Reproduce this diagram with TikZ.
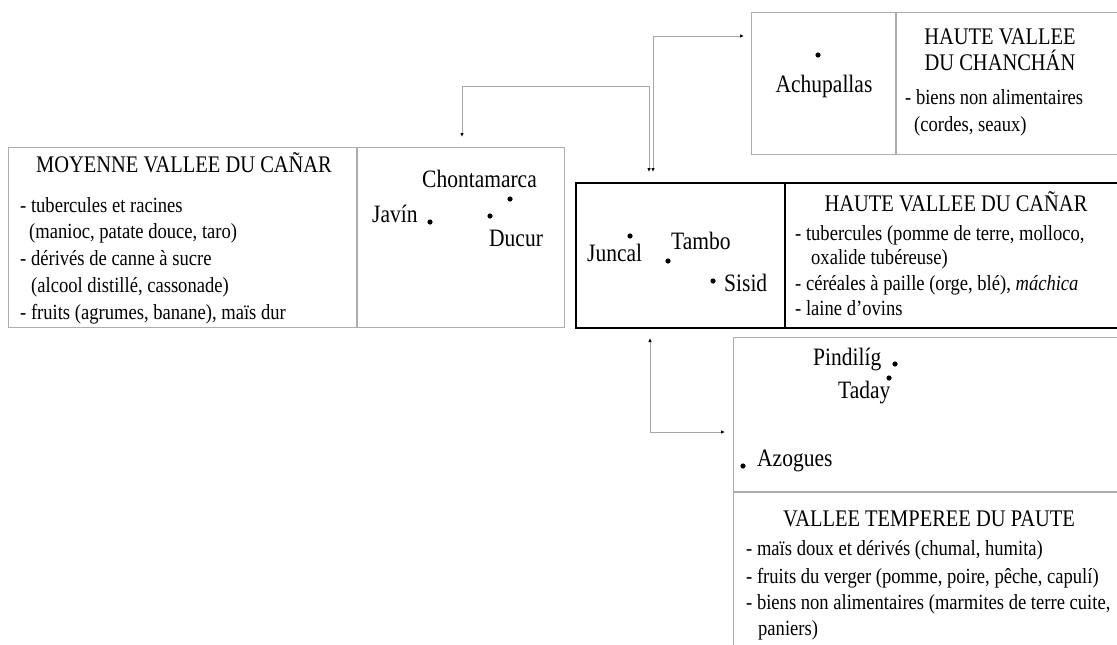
\documentclass[tikz,border=0pt]{standalone}
\usepackage{fontspec}
\setmainfont[FakeStretch=0.86]{Liberation Serif}
\usetikzlibrary{arrows.meta}
\tikzset{
  thinbox/.style={draw=black!32, line width=1.2pt, inner sep=0pt, anchor=north west},
  thickbox/.style={draw=black, line width=2pt, inner sep=0pt, anchor=north west},
  divider/.style={draw=black!32, line width=1.2pt},
  thickdivider/.style={draw=black, line width=1.6pt},
  conn/.style={draw=black!35, line width=1pt,
    {Latex[length=4pt,width=3.5pt,color=black]}-{Latex[length=4pt,width=3.5pt,color=black]}},
  ttl/.style={font=\fontsize{23.8}{28}\selectfont, anchor=base, inner sep=0pt},
  body/.style={font=\fontsize{21.6}{26}\selectfont, anchor=base west, inner sep=0pt},
  place/.style={font=\fontsize{25}{29}\selectfont, anchor=base west, inner sep=0pt},
  placec/.style={font=\fontsize{25}{29}\selectfont, anchor=base, inner sep=0pt},
  dot/.style={fill=black}
}
\begin{document}
\begin{tikzpicture}[x=1pt,y=-1pt]
\clip (0,0) rectangle (1117,645);
\fill[white] (0,0) rectangle (1117,645);

% boxes
\node[thinbox, minimum width=556pt, minimum height=180pt] (moy) at (8,147) {};
\draw[divider] (357,147) -- (357,327);
\node[thickbox, minimum width=548pt, minimum height=145pt] (haut) at (575,182) {};
\draw[thickdivider] (785,182) -- (785,327);
\node[thinbox, minimum width=372pt, minimum height=142pt] (chan) at (751,12) {};
\draw[divider] (896,12) -- (896,154);
\node[thinbox, minimum width=390pt, minimum height=320pt] (paute) at (733,337) {};
\draw[divider] (733,492) -- (1120,492);

% connectors
\coordinate (a1) at ([xshift=78pt,yshift=10pt]haut.north west);
\coordinate (a2) at ([xshift=-7pt,yshift=-24pt]chan.north west);
\draw[conn] (a1) |- (a2);
\coordinate (b1) at ([xshift=74pt,yshift=10pt]haut.north west);
\coordinate (b2) at ([xshift=454pt,yshift=10pt]moy.north west);
\draw[conn] (b1) -- ++(0,-86) -| (b2);
\coordinate (c1) at ([xshift=75pt,yshift=-9pt]haut.south west);
\coordinate (c2) at ([xshift=-8pt,yshift=-95pt]paute.north west);
\draw[conn] (c1) |- (c2);

% Moyenne vallee
\node[ttl] (moyT) at (184,172) {MOYENNE VALLEE DU CAÑAR};
\node[body] (m1) at (20,212) {- tubercules et racines};
\node[body] (m2) at (29,238) {(manioc, patate douce, taro)};
\node[body] (m3) at (20,265) {- dérivés de canne à sucre};
\node[body] (m4) at (31,292) {(alcool distillé, cassonade)};
\node[body] (m5) at (20,319) {- fruits (agrumes, banane), maïs dur};
\node[place] (chonta) at (422,187) {Chontamarca};
\node[place] (javin) at (372,222) {Javín};
\node[place] (ducur) at (489,246) {Ducur};
\fill[dot] (430,222) circle[radius=2.6pt];
\fill[dot] (490,216) circle[radius=2.6pt];
\fill[dot] (510,199) circle[radius=2.6pt];

% Haute vallee du Canar
\node[place] (juncal) at (587,261) {Juncal};
\node[place] (tambo) at (671,249) {Tambo};
\node[place] (sisid) at (724,291) {Sisid};
\fill[dot] (630,236) circle[radius=2.6pt];
\fill[dot] (668,261) circle[radius=2.6pt];
\fill[dot] (713,281) circle[radius=2.6pt];
\node[ttl] (hautT) at (956,211) {HAUTE VALLEE DU CAÑAR};
\node[body] (h1) at (795,240) {- tubercules (pomme de terre, molloco,};
\node[body] (h2) at (811,264) {oxalide tubéreuse)};
\node[body] (h3) at (795,290) {- céréales à paille (orge, blé), \textit{máchica}};
\node[body] (h4) at (795,315) {- laine d’ovins};

% Chanchan
\fill[dot] (818,55) circle[radius=2.6pt];
\node[placec] (achu) at (824,92) {Achupallas};
\node[ttl] (chanT1) at (1000,44) {HAUTE VALLEE};
\node[ttl] (chanT2) at (1000,70) {DU CHANCHÁN};
\node[body] (ch1) at (905,104) {- biens non alimentaires};
\node[body] (ch2) at (914,131) {(cordes, seaux)};

% Paute
\node[place] (pindi) at (813,365) {Pindilíg};
\node[place] (taday) at (838,398) {Taday};
\node[place] (azog) at (757,466) {Azogues};
\fill[dot] (895,364) circle[radius=2.6pt];
\fill[dot] (889,378) circle[radius=2.6pt];
\fill[dot] (743,466) circle[radius=2.6pt];
\node[ttl] (pauteT) at (929,526) {VALLEE TEMPEREE DU PAUTE};
\node[body] (p1) at (746,555) {- maïs doux et dérivés (chumal, humita)};
\node[body] (p2) at (746,583) {- fruits du verger (pomme, poire, pêche, capulí)};
\node[body] (p3) at (746,609) {- biens non alimentaires (marmites de terre cuite,};
\node[body] (p4) at (758,635) {paniers)};
\end{tikzpicture}
\end{document}
